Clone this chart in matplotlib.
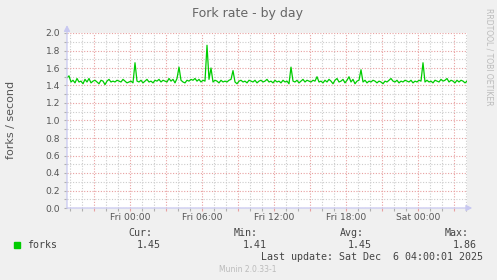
import numpy as np
import pandas as pd
import matplotlib
matplotlib.use("Agg")
import matplotlib.pyplot as plt
import matplotlib.dates as mdates
from matplotlib.ticker import MultipleLocator, FuncFormatter

# fork rate samples, 10 minute steps
start = "2025-12-04 18:45"
forks = [
    1.49, 1.51, 1.44, 1.46, 1.43, 1.48, 1.44, 1.45, 1.42, 1.47,
    1.44, 1.48, 1.43, 1.45, 1.46, 1.44, 1.42, 1.46, 1.45, 1.41,
    1.45, 1.47, 1.44, 1.45, 1.44, 1.46, 1.45, 1.44, 1.47, 1.45,
    1.43, 1.44, 1.45, 1.43, 1.66, 1.45, 1.44, 1.46, 1.43, 1.45,
    1.47, 1.44, 1.45, 1.43, 1.46, 1.45, 1.47, 1.44, 1.46, 1.45,
    1.44, 1.48, 1.45, 1.47, 1.43, 1.48, 1.61, 1.46, 1.44, 1.43,
    1.46, 1.45, 1.47, 1.46, 1.48, 1.45, 1.47, 1.44, 1.46, 1.45,
    1.86, 1.47, 1.60, 1.44, 1.46, 1.45, 1.43, 1.46, 1.44, 1.45,
    1.44, 1.46, 1.47, 1.57, 1.44, 1.42, 1.45, 1.46, 1.44, 1.45,
    1.43, 1.46, 1.45, 1.44, 1.46, 1.43, 1.45, 1.46, 1.44, 1.45,
    1.47, 1.44, 1.45, 1.43, 1.46, 1.44, 1.45, 1.43, 1.46, 1.44,
    1.45, 1.42, 1.61, 1.45, 1.44, 1.46, 1.43, 1.45, 1.47, 1.44,
    1.46, 1.45, 1.44, 1.46, 1.45, 1.50, 1.44, 1.45, 1.43, 1.46,
    1.44, 1.47, 1.45, 1.42, 1.46, 1.48, 1.44, 1.45, 1.47, 1.43,
    1.46, 1.50, 1.44, 1.47, 1.42, 1.45, 1.46, 1.58, 1.44, 1.46,
    1.43, 1.45, 1.44, 1.46, 1.45, 1.43, 1.45, 1.44, 1.42, 1.45,
    1.44, 1.46, 1.48, 1.45, 1.44, 1.46, 1.43, 1.45, 1.44, 1.46,
    1.45, 1.44, 1.46, 1.43, 1.45, 1.44, 1.46, 1.45, 1.66, 1.44,
    1.46, 1.44, 1.45, 1.43, 1.46, 1.45, 1.44, 1.47, 1.45, 1.46,
    1.48, 1.44, 1.46, 1.45, 1.43, 1.46, 1.44, 1.46, 1.45, 1.43,
    1.45,
]
stat_names = ["Cur:", "Min:", "Avg:", "Max:"]
stat_values = ["1.45", "1.41", "1.45", "1.86"]
last_update = "Last update: Sat Dec  6 04:00:01 2025"

times = pd.date_range(start, periods=len(forks), freq="10min")

W, H = 497, 280
fig = plt.figure(figsize=(W / 100, H / 100), dpi=100)
fig.patch.set_facecolor("#F0F0F0")

ax = fig.add_axes([67 / W, 1 - 208 / H, 400 / W, 175 / H])
ax.set_facecolor("white")
for s in ax.spines.values():
    s.set_visible(False)

ax.plot(times, forks, color="#00CC00", lw=0.9, zorder=3)

ax.set_xlim(times[0], times[-1])
ax.set_ylim(0, 2.0)

ax.yaxis.set_major_locator(MultipleLocator(0.2))
ax.yaxis.set_minor_locator(MultipleLocator(0.1))
ax.yaxis.set_major_formatter(FuncFormatter(lambda v, p: "%.1f" % v))

ax.xaxis.set_major_locator(mdates.HourLocator(byhour=range(0, 24, 3)))
ax.xaxis.set_minor_locator(mdates.HourLocator())

def xfmt(v, pos):
    d = mdates.num2date(v)
    if d.hour % 6 == 0:
        return d.strftime("%a %H:%M")
    return ""

ax.xaxis.set_major_formatter(FuncFormatter(xfmt))

ax.grid(which="major", color="#E8A0A0", ls=(0, (1, 1.5)), lw=0.8, zorder=1)
ax.grid(which="minor", color="#CCCCCC", ls=(0, (1, 1.5)), lw=0.8, zorder=0)

ax.tick_params(which="both", labelsize=6.6, labelcolor="#555555",
               color="#B0B0B0", length=2, width=0.8)
ax.tick_params(axis="x", which="major", color="#E8A0A0", pad=1.5)
ax.tick_params(axis="y", pad=2.8)

# axes with arrow heads
arr = dict(arrowstyle="-|>,head_length=0.35,head_width=0.18",
           color="#C8C8F0", lw=0.9, shrinkA=0, shrinkB=0)
ax.annotate("", xy=(0, 1.045), xytext=(0, 0), xycoords="axes fraction",
            arrowprops=arr, annotation_clip=False)
ax.annotate("", xy=(1.013, 0), xytext=(0, 0), xycoords="axes fraction",
            arrowprops=arr, annotation_clip=False)

def fy(px):
    return 1 - px / H

fig.text(248 / W, fy(14), "Fork rate - by day", ha="center", va="center",
         fontsize=9, color="#666666")
fig.text(11 / W, fy(120), "forks / second", rotation=90, ha="center",
         va="center", fontsize=8, color="#555555")
fig.text(489 / W, fy(57), "RRDTOOL / TOBI OETIKER", rotation=270,
         ha="center", va="center", fontsize=5.5, color="#BBBBBB")

mono = "DejaVu Sans Mono"
name_right = [152, 258, 364, 469]
value_right = [161, 267, 372, 477]
for n, v, xn, xv in zip(stat_names, stat_values, name_right, value_right):
    fig.text(xn / W, fy(233.5), n, ha="right", va="center", family=mono,
             fontsize=7.2, color="#444444")
    fig.text(xv / W, fy(245), v, ha="right", va="center", family=mono,
             fontsize=7.2, color="#444444")

fig.patches.append(plt.Rectangle((14 / W, fy(248)), 6 / W, 6 / H,
                                 transform=fig.transFigure,
                                 facecolor="#00CC00", edgecolor="#00CC00"))
fig.text(27 / W, fy(245), "forks", ha="left", va="center", family=mono,
         fontsize=7.2, color="#444444")
fig.text(483 / W, fy(257.5), last_update, ha="right", va="center",
         family=mono, fontsize=7.2, color="#444444")
fig.text(248 / W, fy(269), "Munin 2.0.33-1", ha="center", va="center",
         fontsize=5.5, color="#BBBBBB")

fig.savefig("out.png", dpi=100, facecolor=fig.get_facecolor())
